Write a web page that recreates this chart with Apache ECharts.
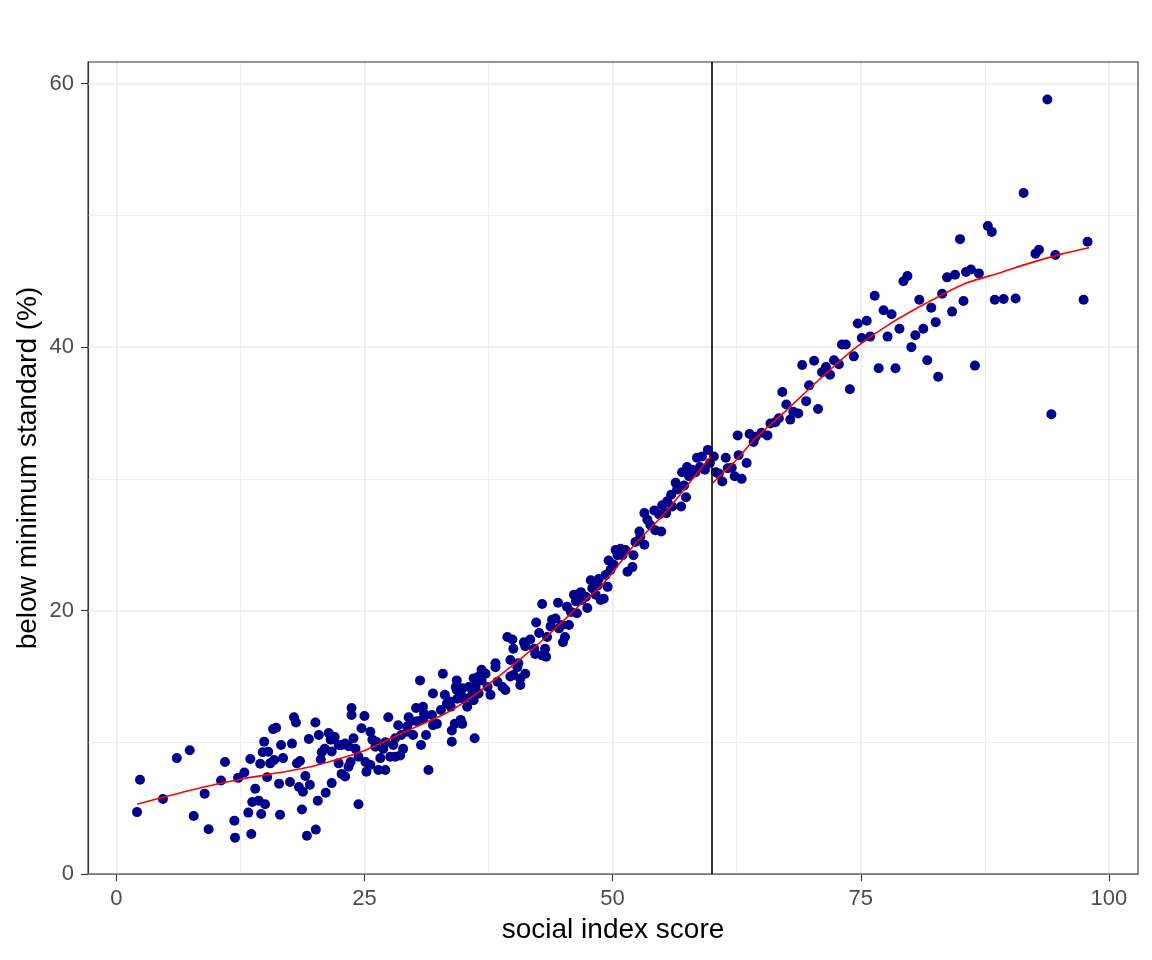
<!DOCTYPE html>
<html style="height: 100%">
<head>
<meta charset="utf-8">
<script type="text/javascript" src="https://cdn.jsdelivr.net/npm/echarts@6/dist/echarts.min.js"></script>
</head>
<body style="height: 100%; margin: 0; background: #ffffff">
<div id="container" style="width: 1152px; height: 960px"></div>
<script type="text/javascript">
// points, one line of x and the matching line of y
var socialIndex = [
  2.09, 2.39, 4.7, 6.1, 7.4, 7.8, 8.9, 9.3, 10.55, 10.95,
  11.9, 11.96, 12.27, 12.9, 13.3, 13.5, 13.6, 13.7, 14.0, 14.35,
  14.5, 14.6, 14.75, 14.9, 14.99, 15.2, 15.3, 15.5, 15.8, 16.1,
  15.9, 16.4, 16.5, 16.6, 16.8, 17.5, 17.7, 17.9, 18.1, 18.2,
  18.5, 18.4, 18.8, 18.7, 19.05, 19.2, 19.4, 19.5, 20.06, 20.1,
  20.3, 20.4, 20.6, 20.7, 21.1, 21.4, 21.6, 21.7, 21.7, 22.0,
  21.0, 22.4, 22.7, 23.05, 23.4, 23.7, 23.7, 23.9, 24.1, 22.4,
  22.7, 23.05, 23.6, 23.4, 24.4, 24.7, 25.0, 25.1, 25.2, 25.6,
  25.6, 25.8, 26.2, 26.4, 26.6, 27.1, 26.9, 27.4, 27.6, 27.9,
  28.1, 28.4, 28.6, 28.7, 28.9, 29.3, 29.45, 29.9, 29.7, 30.2,
  30.3, 30.7, 31.0, 31.2, 31.45, 24.4, 26.1, 27.1, 28.1, 29.3,
  30.6, 30.95, 31.8, 31.9, 32.3, 32.7, 32.9, 33.1, 33.3, 33.7,
  33.8, 33.8, 34.1, 34.3, 34.3, 34.7, 34.85, 35.0, 35.35, 35.5,
  35.9, 36.0, 36.1, 30.9, 31.9, 33.6, 34.2, 34.35, 34.7, 34.85,
  35.7, 36.0, 36.2, 36.5, 36.8, 36.8, 37.2, 37.4, 37.7, 38.2,
  38.4, 38.9, 39.2, 39.7, 40.0, 40.5, 40.7, 41.2, 36.5, 38.2,
  39.4, 39.7, 39.9, 40.0, 40.4, 40.7, 41.06, 41.2, 41.7, 42.1,
  42.2, 42.3, 42.6, 42.9, 42.9, 43.2, 43.3, 43.4, 43.75, 43.9,
  44.25, 44.5, 44.6, 44.9, 45.0, 45.2, 45.4, 45.6, 45.8, 46.1,
  46.3, 46.4, 46.8, 46.9, 47.3, 47.45, 47.8, 47.95, 48.3, 48.5,
  48.6, 48.8, 49.1, 49.3, 49.5, 49.6, 49.8, 50.1, 50.3, 50.5,
  50.8, 51.0, 51.3, 51.5, 52.0, 52.1, 52.3, 52.7, 52.8, 53.2,
  53.2, 53.5, 53.8, 54.2, 54.3, 54.7, 54.9, 55.0, 55.4, 55.5,
  55.9, 56.0, 56.35, 56.5, 56.9, 57.0, 57.2, 57.4, 57.5, 57.7,
  58.0, 58.35, 58.5, 58.8, 59.0, 59.3, 59.6, 59.8, 60.2, 60.4,
  60.7, 61.05, 61.4, 61.6, 62.0, 62.3, 62.6, 62.7, 63.0, 63.5,
  63.8, 64.2, 64.4, 65.0, 65.6, 65.9, 66.4, 66.75, 67.1, 67.5,
  67.9, 68.2, 68.7, 69.1, 69.5, 69.8, 70.3, 70.7, 71.1, 71.5,
  71.9, 72.3, 72.8, 73.1, 73.5, 73.9, 74.3, 74.7, 75.1, 75.6,
  75.95, 76.4, 76.8, 77.3, 77.7, 78.1, 78.5, 78.9, 79.3, 79.7,
  80.1, 80.5, 80.9, 81.3, 81.7, 82.1, 82.55, 82.8, 83.2, 83.7,
  84.5, 85.6, 86.1, 86.9, 84.2, 85.35, 85.0, 87.8, 88.2, 86.5,
  88.5, 89.4, 90.6, 91.4, 92.6, 92.95, 93.8, 94.2, 94.6, 97.45,
  97.85
];
var belowStandard = [
  4.7, 7.16, 5.7, 8.8, 9.4, 4.4, 6.1, 3.4, 7.1, 8.5,
  4.05, 2.76, 7.3, 7.7, 4.66, 8.73, 3.04, 5.47, 6.48, 5.57,
  8.37, 4.56, 9.24, 10.05, 5.3, 7.34, 9.28, 8.4, 11.0, 11.1,
  8.65, 6.86, 4.5, 9.8, 8.8, 6.98, 9.9, 11.9, 11.5, 8.4,
  8.58, 6.6, 6.24, 4.9, 7.44, 2.9, 10.25, 6.78, 11.5, 3.37,
  5.57, 10.55, 8.7, 9.24, 6.17, 10.7, 10.2, 9.3, 6.9, 10.4,
  9.5, 9.8, 9.8, 9.9, 9.7, 12.6, 12.07, 10.3, 9.5, 8.4,
  7.6, 7.4, 8.5, 8.15, 8.9, 11.06, 12.0, 8.5, 7.77, 10.8,
  8.27, 10.2, 10.04, 7.9, 8.8, 7.9, 9.5, 11.9, 8.9, 9.8,
  10.3, 11.3, 9.0, 10.55, 9.5, 10.8, 11.9, 10.55, 11.6, 12.6,
  11.6, 9.8, 12.2, 10.55, 7.9, 5.3, 9.66, 10.0, 8.9, 11.2,
  14.7, 11.8, 12.07, 13.7, 11.4, 12.45, 15.2, 13.6, 12.95, 12.7,
  10.9, 10.04, 11.4, 14.7, 13.97, 13.7, 11.4, 13.3, 12.7, 14.2,
  13.6, 14.85, 10.3, 12.7, 11.3, 13.1, 14.2, 13.3, 11.7, 14.1,
  13.45, 13.2, 14.2, 13.7, 14.7, 15.5, 15.2, 14.2, 13.6, 16.0,
  14.6, 14.2, 13.97, 16.25, 15.1, 16.0, 14.35, 15.2, 15.0, 15.7,
  18.0, 15.0, 17.8, 17.1, 15.7, 14.85, 17.6, 17.3, 17.8, 17.1,
  16.7, 19.1, 18.3, 20.5, 16.6, 17.1, 16.5, 18.0, 18.8, 19.3,
  19.4, 20.6, 18.65, 18.9, 17.6, 18.0, 20.3, 18.9, 19.9, 21.2,
  20.7, 19.8, 21.4, 20.8, 21.05, 20.2, 22.3, 21.7, 21.2, 21.9,
  22.4, 20.8, 20.9, 22.7, 21.8, 23.8, 23.1, 23.5, 24.6, 24.2,
  24.7, 24.2, 24.6, 22.95, 23.3, 24.2, 25.2, 26.0, 25.6, 25.0,
  27.4, 26.9, 26.5, 27.6, 26.1, 27.3, 26.0, 28.0, 27.4, 28.3,
  28.8, 27.9, 29.7, 29.2, 27.9, 30.5, 29.5, 28.6, 30.9, 30.2,
  30.7, 30.5, 31.6, 30.9, 31.7, 30.7, 32.2, 31.2, 31.7, 30.5,
  30.4, 29.8, 31.6, 30.8, 30.85, 30.2, 33.3, 31.8, 30.0, 31.2,
  33.4, 32.8, 33.2, 33.5, 33.3, 34.2, 34.3, 34.6, 36.6, 35.65,
  34.5, 35.1, 34.97, 38.65, 35.9, 37.1, 38.97, 35.3, 38.1, 38.5,
  37.9, 39.0, 38.7, 40.2, 40.2, 36.8, 39.3, 41.8, 40.7, 42.0,
  40.8, 43.9, 38.4, 42.8, 40.8, 42.5, 38.4, 41.4, 45.0, 45.4,
  40.0, 40.9, 43.6, 41.4, 39.0, 43.0, 41.9, 37.75, 44.05, 45.3,
  45.5, 45.7, 45.9, 45.6, 42.7, 43.5, 48.2, 49.2, 48.75, 38.6,
  43.6, 43.65, 43.7, 51.7, 47.1, 47.4, 58.8, 34.9, 47.0, 43.6,
  48.0
];

// smoothed fit, fitted separately on each side of the cutoff
var fitLowX = [2.1, 5.1, 8.5, 12.5, 18.5, 21.1, 25.1, 29.1, 33.2, 36.1, 40.6, 43.75, 46.8, 49.0, 52.1, 55.5, 58.8, 59.9];
var fitLowY = [5.3, 5.9, 6.55, 7.2, 7.97, 8.45, 9.4, 10.8, 12.2, 13.6, 16.25, 18.3, 20.5, 22.0, 24.9, 27.6, 30.7, 31.7];
var fitHighX = [60.1, 62.8, 64.2, 67.5, 70.9, 74.2, 77.6, 81.0, 85.4, 88.8, 92.1, 95.4, 98.0];
var fitHighY = [29.7, 31.7, 32.95, 35.2, 37.6, 39.8, 41.6, 43.1, 44.8, 45.6, 46.4, 47.1, 47.55];

var cutoff = 60;
var xTicks = [0, 25, 50, 75, 100];
var xMinor = [12.5, 37.5, 62.5, 87.5];
var yTicks = [0, 20, 40, 60];
var yMinor = [10, 30, 50];
var xRange = [-2.85, 102.93];
var yRange = [0, 61.65];

var font = "'Liberation Sans', Arial, sans-serif";

function zip(xs, ys) {
  return xs.map(function (x, i) { return [x, ys[i]]; });
}

function gridLines(axis, values, width) {
  return values.map(function (v) {
    var item = { lineStyle: { color: '#EBEBEB', width: width, type: 'solid' } };
    item[axis] = v;
    return item;
  });
}

var dom = document.getElementById('container');
var myChart = echarts.init(dom, null, { renderer: 'canvas' });

var option = {
  animation: false,
  backgroundColor: '#ffffff',
  grid: {
    left: 88,
    right: 14,
    top: 62,
    bottom: 86,
    containLabel: false,
    outerBoundsMode: 'none',
    show: true,
    backgroundColor: 'transparent',
    borderColor: '#333333',
    borderWidth: 1.1,
    z: 4
  },
  xAxis: {
    type: 'value',
    min: xRange[0],
    max: xRange[1],
    name: 'social index score',
    nameLocation: 'middle',
    nameGap: 42,
    nameMoveOverlap: false,
    nameTextStyle: { fontSize: 28, color: '#000000', fontFamily: font },
    axisLine: { show: true, onZero: false, lineStyle: { color: '#333333', width: 1.1 } },
    axisTick: { show: true, length: 7, customValues: xTicks, lineStyle: { color: '#333333', width: 1.1 } },
    axisLabel: { customValues: xTicks, fontSize: 22, color: '#4D4D4D', margin: 14, fontFamily: font },
    splitLine: { show: false }
  },
  yAxis: {
    type: 'value',
    min: yRange[0],
    max: yRange[1],
    name: 'below minimum standard (%)',
    nameLocation: 'middle',
    nameGap: 46,
    nameMoveOverlap: false,
    nameTextStyle: { fontSize: 28, color: '#000000', fontFamily: font },
    axisLine: { show: true, onZero: false, lineStyle: { color: '#333333', width: 1.1 } },
    axisTick: { show: true, length: 7, customValues: yTicks, lineStyle: { color: '#333333', width: 1.1 } },
    axisLabel: { customValues: yTicks, fontSize: 22, color: '#4D4D4D', margin: 14, fontFamily: font },
    splitLine: { show: false }
  },
  series: [
    {
      type: 'scatter',
      data: zip(socialIndex, belowStandard),
      symbol: 'circle',
      symbolSize: 10,
      itemStyle: { color: '#00008B', opacity: 1 },
      z: 2,
      markLine: {
        silent: true,
        animation: false,
        z: 1,
        symbol: ['none', 'none'],
        label: { show: false },
        emphasis: { disabled: true },
        data: []
          .concat(gridLines('xAxis', xMinor, 0.8))
          .concat(gridLines('yAxis', yMinor, 0.8))
          .concat(gridLines('xAxis', xTicks, 1.5))
          .concat(gridLines('yAxis', yTicks, 1.5))
      }
    },
    {
      type: 'line',
      data: zip(fitLowX, fitLowY),
      showSymbol: false,
      smooth: 0.2,
      lineStyle: { color: '#FF0000', width: 1.6 },
      z: 3,
      markLine: {
        silent: true,
        animation: false,
        z: 6,
        symbol: ['none', 'none'],
        label: { show: false },
        emphasis: { disabled: true },
        data: [{ xAxis: cutoff, lineStyle: { color: '#000000', width: 1.6, type: 'solid' } }]
      }
    },
    {
      type: 'line',
      data: zip(fitHighX, fitHighY),
      showSymbol: false,
      smooth: 0.2,
      lineStyle: { color: '#FF0000', width: 1.6 },
      z: 3
    }
  ]
};

myChart.setOption(option);
</script>
</body>
</html>
